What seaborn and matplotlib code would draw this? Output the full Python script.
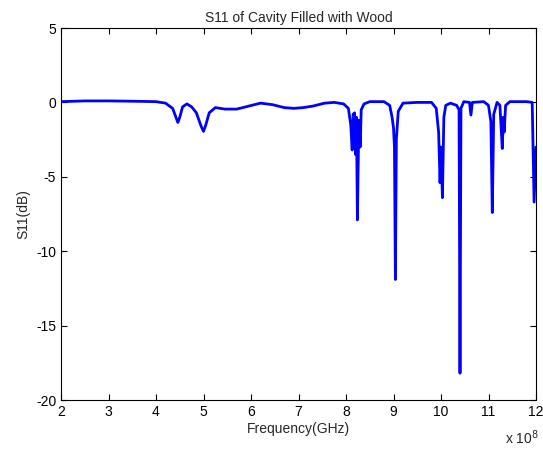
import matplotlib
matplotlib.use("Agg")
import matplotlib.pyplot as plt
import seaborn as sns
import pandas as pd

# frequency in units of 1e8 Hz, S11 in dB
freq = [2.00, 2.50, 3.00, 3.50, 4.00, 4.20, 4.35, 4.42, 4.46, 4.50, 4.56, 4.65,
        4.75, 4.85, 4.95, 5.00, 5.05, 5.12, 5.25, 5.45, 5.70, 5.95, 6.20, 6.45,
        6.70, 6.90, 7.10, 7.30, 7.55, 7.75, 7.95, 8.05, 8.10, 8.13, 8.15, 8.18,
        8.20, 8.22, 8.24, 8.27, 8.30, 8.32, 8.38, 8.50, 8.80, 8.92, 8.97, 9.00,
        9.02, 9.04, 9.06, 9.10, 9.20, 9.50, 9.80, 9.90, 9.95, 9.98, 10.00, 10.03,
        10.06, 10.10, 10.20, 10.33, 10.38, 10.40, 10.42, 10.48, 10.60, 10.63, 10.66,
        10.90, 11.00, 11.05, 11.08, 11.11, 11.18, 11.24, 11.29, 11.31, 11.33, 11.36,
        11.45, 11.80, 11.92, 11.96, 12.00]
s11 = [0.05, 0.10, 0.10, 0.08, 0.05, -0.05, -0.4, -1.0, -1.35, -1.0, -0.3, -0.1,
       -0.3, -0.7, -1.6, -1.95, -1.5, -0.7, -0.35, -0.45, -0.45, -0.25, -0.05, -0.15,
       -0.35, -0.4, -0.35, -0.25, -0.05, 0.0, -0.1, -0.4, -1.5, -3.2, -0.8, -0.7,
       -3.5, -1.0, -7.9, -1.2, -3.0, -0.5, -0.1, 0.05, 0.05, -0.2, -1.0, -1.7,
       -3.0, -11.9, -2.5, -0.6, -0.05, 0.0, 0.0, -0.4, -2.0, -5.4, -3.0, -6.4,
       -1.0, -0.2, -0.05, -0.2, -0.5, -18.2, -0.4, 0.05, 0.0, -0.85, 0.0,
       0.05, -0.2, -1.3, -7.4, -0.8, 0.0, -0.2, -3.1, -1.0, -2.0, -0.2,
       0.05, 0.05, 0.0, -6.7, -3.0]

df = pd.DataFrame({"freq": freq, "s11": s11})

sns.set_theme(style="ticks")
plt.rcParams["font.family"] = ["Liberation Sans", "DejaVu Sans"]
plt.rcParams["xtick.direction"] = "in"
plt.rcParams["ytick.direction"] = "in"
plt.rcParams["axes.unicode_minus"] = False

fig = plt.figure(figsize=(5.43, 4.53), dpi=100)
ax = fig.add_axes([61 / 543, 53 / 453, 475 / 543, 372 / 453])

sns.lineplot(data=df, x="freq", y="s11", ax=ax, color="#0000ff", linewidth=2.0,
             estimator=None, sort=False)

ax.set_xlim(2, 12)
ax.set_ylim(-20, 5)
ax.set_xticks(range(2, 13))
ax.set_yticks(range(-20, 6, 5))
ax.tick_params(top=True, right=True, labelsize=10, length=4, width=0.8, colors="black")
for s in ax.spines.values():
    s.set_visible(True)
    s.set_linewidth(0.8)
    s.set_color("black")

ax.set_title("S11 of Cavity Filled with Wood", fontsize=10, pad=4)
ax.set_xlabel("Frequency(GHz)", fontsize=10, labelpad=2)
ax.set_ylabel("S11(dB)", fontsize=10, labelpad=4)
fig.text(522 / 543, 1 - 438 / 453, r"x 10$^{8}$", fontsize=10, ha="center", va="center")

fig.savefig("out.png", dpi=100, facecolor="white")
